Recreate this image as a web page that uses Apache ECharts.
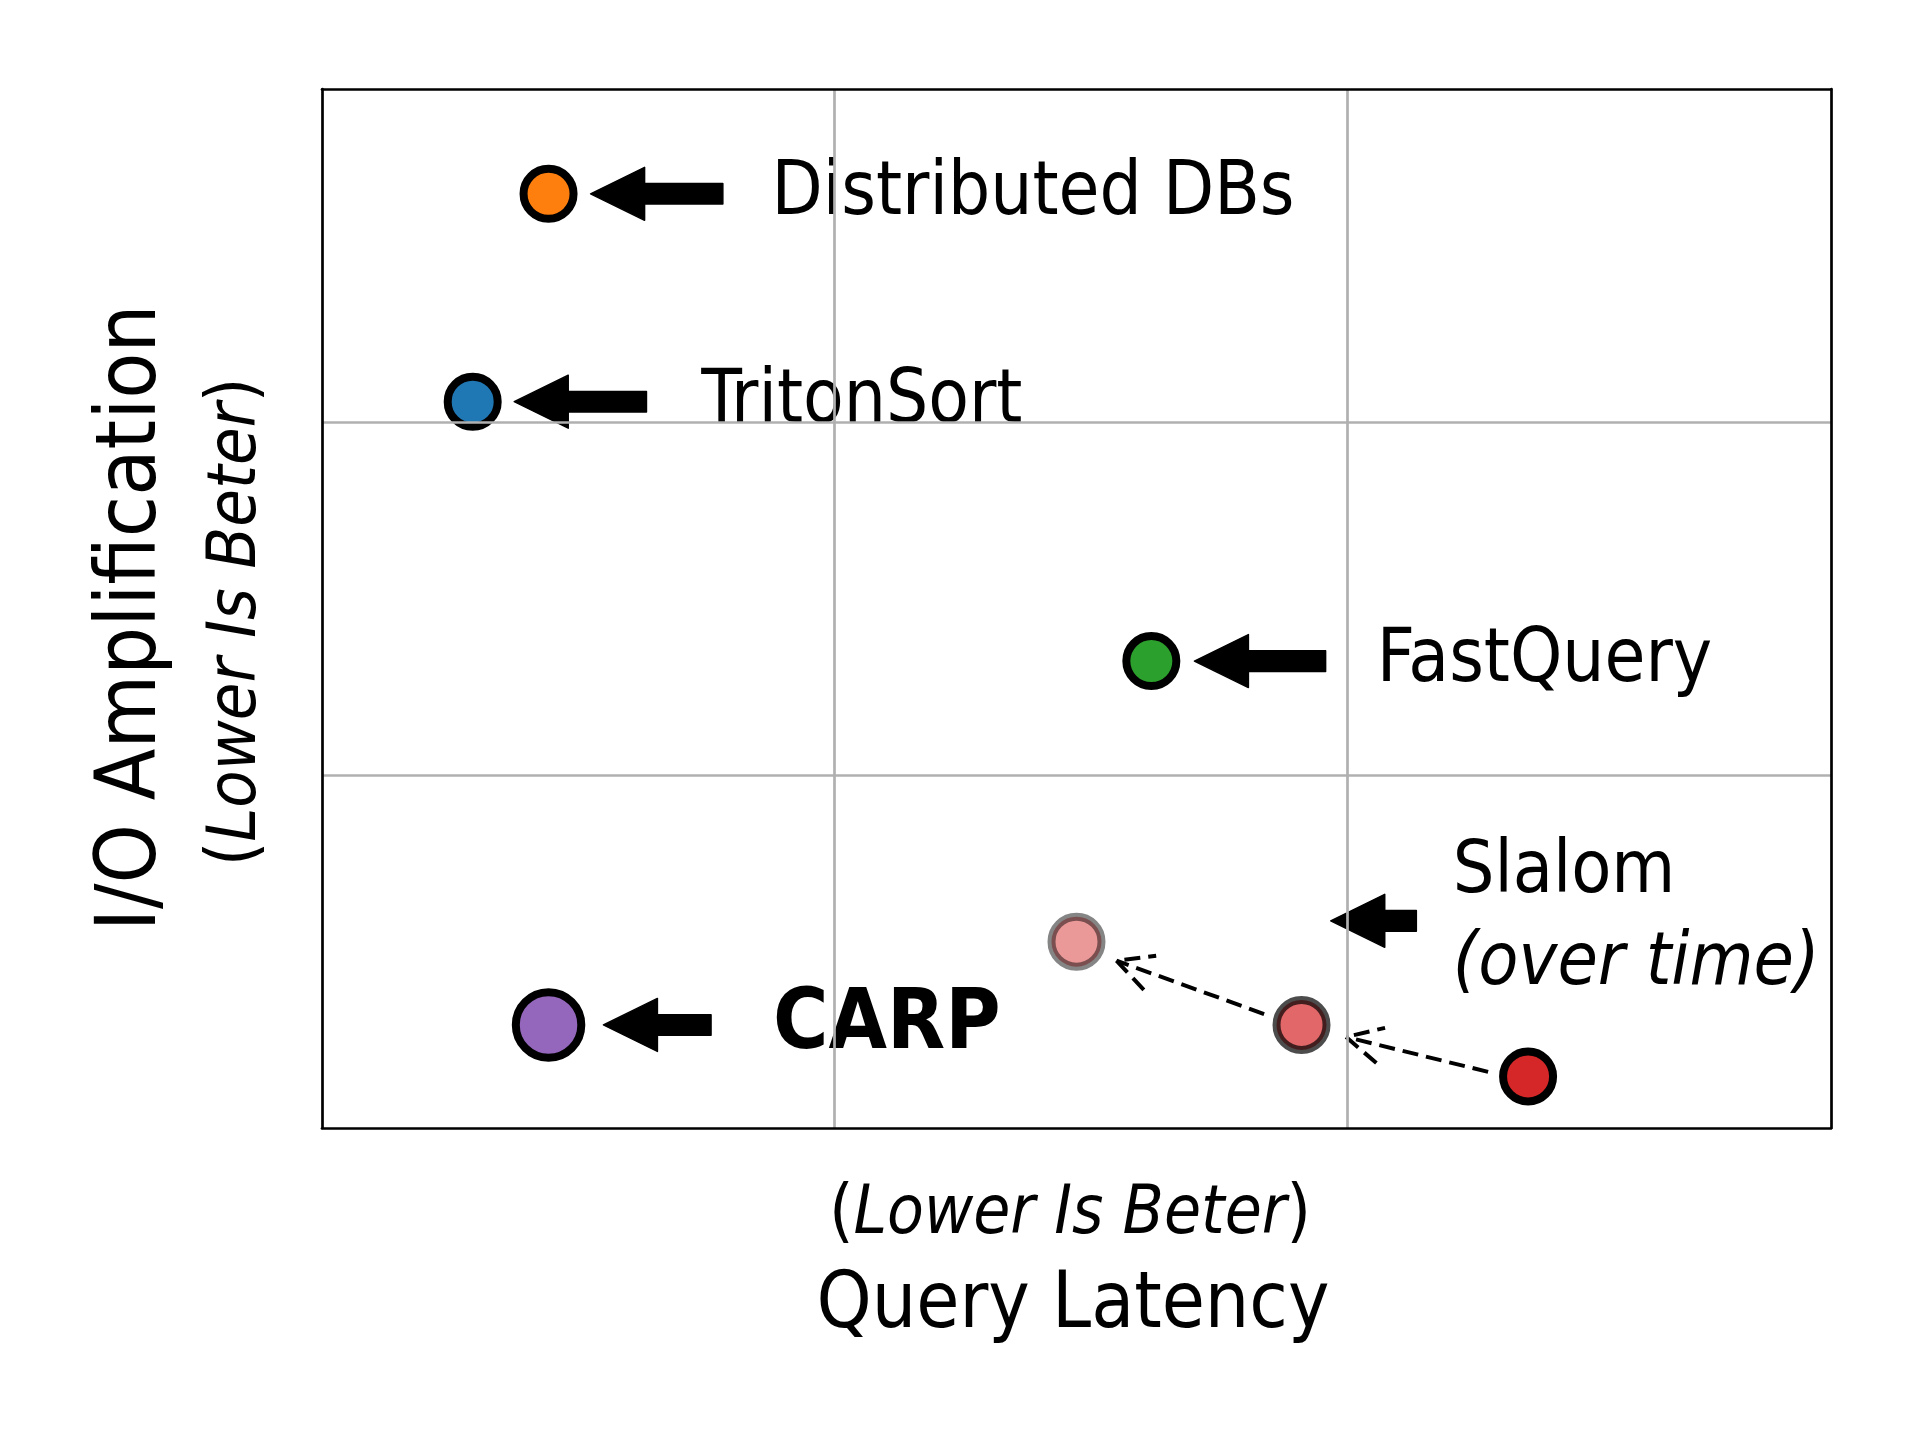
<!DOCTYPE html>
<html>
<head>
<meta charset="utf-8">
<script src="https://cdn.jsdelivr.net/npm/echarts@6/dist/echarts.min.js"></script>
<style>
  html, body { margin: 0; padding: 0; background: #fff; }
  #chart { width: 1920px; height: 1440px; }
</style>
</head>
<body>
<div id="chart"></div>
<script>
// ---------------- data ----------------
const systems   = ['Distributed DBs', 'TritonSort', 'FastQuery', 'CARP'];
const latency   = [0.442, 0.294, 1.618, 0.442];
const ioAmp     = [2.647, 2.058, 1.323, 0.292];

// Slalom over time: first (latest, solid) -> older (faded)
const slalomLatency = [2.353, 1.911, 1.472];
const slalomIO      = [0.146, 0.292, 0.528];

// annotation arrows (data coords): tip x, tail x, label x
const arrowTipX  = [0.524, 0.375, 1.702, 0.549];
const arrowTailX = [0.782, 0.633, 1.958, 0.759];
const labelX     = [0.877, 0.740, 2.058, 0.880];

// Slalom annotation
const slalomArrow = [1.968, 2.135, 0.587];   // tip x, tail x, y
const slalomLabelX = 2.206;
const slalomLabel = ['Slalom', '(over time)'];

// dashed trend arrows: [fromX, fromY, toX, toY]
const trendArrows = [
  [2.275, 0.159, 1.998, 0.258],
  [1.838, 0.323, 1.550, 0.474]
];

const axisMax = 2.944;
const xTitle = ['Lower Is Beter', 'Query Latency'];
const yTitle = ['I/O Amplification', 'Lower Is Beter'];

// ---------------- styles ----------------
const FAM = '"DejaVu Sans Condensed", "DejaVu Sans", sans-serif';
const sysColors = ['#ff7f0e', '#1f77b4', '#2ca02c', '#9467bd'];
const sysSizes  = [50, 50, 50, 65.5];
const slalomOpacity = [1, 0.7, 0.48];
const RED = '#d62728';

const chart = echarts.init(document.getElementById('chart'), null, { renderer: 'canvas' });

const grid = { left: 322, top: 89, width: 1509, height: 1039 };

function blockArrow(api, tipX, tailX, y) {
  const tip = api.coord([tipX, y]);
  const tail = api.coord([tailX, y]);
  const hl = 54, hh = 26.5, sh = 10.3;
  const tx = tip[0], ty = tip[1], lx = tail[0];
  return {
    type: 'polygon',
    shape: { points: [
      [tx, ty], [tx + hl, ty - hh], [tx + hl, ty - sh], [lx, ty - sh],
      [lx, ty + sh], [tx + hl, ty + sh], [tx + hl, ty + hh]
    ] },
    style: { fill: '#000', stroke: '#000', lineWidth: 1.5, lineJoin: 'round' }
  };
}

const gridLine = { show: true, showMinLine: false, showMaxLine: false, lineStyle: { color: '#b0b0b0', width: 2.7 } };
const spine = { show: true, onZero: false, lineStyle: { color: '#000', width: 2.7 } };

function mkAxis(pos, withSplit) {
  return {
    type: 'value', min: 0, max: axisMax, interval: 1, position: pos,
    axisLine: spine, axisTick: { show: false }, axisLabel: { show: false },
    splitLine: withSplit ? gridLine : { show: false }, z: 10
  };
}

const option = {
  animation: false,
  backgroundColor: '#fff',
  grid: Object.assign({ show: false, containLabel: false }, grid),
  xAxis: [mkAxis('bottom', true), mkAxis('top', false)],
  yAxis: [mkAxis('left', true), mkAxis('right', false)],
  series: [
    // dashed trend arrows
    {
      type: 'custom', z: 3,
      data: trendArrows.map((a) => [a[0], a[1], a[2], a[3]]),
      renderItem: function (params, api) {
        const p0 = api.coord([api.value(0), api.value(1)]);
        const p1 = api.coord([api.value(2), api.value(3)]);
        const dx = p0[0] - p1[0], dy = p0[1] - p1[1];
        const ang = Math.atan2(dy, dx);
        const L = 40, spread = 27 * Math.PI / 180;
        const h1 = [p1[0] + L * Math.cos(ang + spread), p1[1] + L * Math.sin(ang + spread)];
        const h2 = [p1[0] + L * Math.cos(ang - spread), p1[1] + L * Math.sin(ang - spread)];
        return {
          type: 'group',
          children: [
            { type: 'line', shape: { x1: p0[0], y1: p0[1], x2: p1[0], y2: p1[1] },
              style: { stroke: '#000', lineWidth: 4, lineDash: [16, 8] } },
            { type: 'polyline', shape: { points: [h1, p1, h2] },
              style: { stroke: '#000', lineWidth: 4, fill: null, lineDash: [16, 8] } }
          ]
        };
      }
    },
    // Slalom points
    {
      type: 'scatter', z: 4,
      data: slalomLatency.map((x, i) => ({
        value: [x, slalomIO[i]],
        symbolSize: 50,
        itemStyle: { color: RED, borderColor: '#000', borderWidth: 8, opacity: slalomOpacity[i] }
      }))
    },
    // systems
    {
      type: 'scatter', z: 5,
      data: systems.map((s, i) => ({
        name: s,
        value: [latency[i], ioAmp[i]],
        symbolSize: sysSizes[i],
        itemStyle: { color: sysColors[i], borderColor: '#000', borderWidth: 8, opacity: 1 }
      }))
    },
    // block arrows + labels for systems
    {
      type: 'custom', z: 6,
      data: systems.map((s, i) => [arrowTipX[i], arrowTailX[i], labelX[i], ioAmp[i], i]),
      renderItem: function (params, api) {
        const i = api.value(4);
        const y = api.value(3);
        const lp = api.coord([api.value(2), y]);
        const bold = systems[i] === 'CARP';
        return {
          type: 'group',
          children: [
            blockArrow(api, api.value(0), api.value(1), y),
            { type: 'text',
              style: { text: systems[i], x: lp[0], y: lp[1] + 1,
                fill: '#000', align: 'left', verticalAlign: 'middle',
                font: (bold ? 'bold 84px ' : '74px ') + FAM } }
          ]
        };
      }
    },
    // Slalom arrow + label
    {
      type: 'custom', z: 6,
      data: [[slalomArrow[0], slalomArrow[1], slalomArrow[2], slalomLabelX]],
      renderItem: function (params, api) {
        const y = api.value(2);
        const lp = api.coord([api.value(3), y]);
        return {
          type: 'group',
          children: [
            blockArrow(api, api.value(0), api.value(1), y),
            { type: 'text',
              style: { text: '{n|' + slalomLabel[0] + '}\n{i|' + slalomLabel[1] + '}',
                x: lp[0], y: lp[1] - 2, align: 'left', verticalAlign: 'middle',
                rich: {
                  n: { font: '73px ' + FAM, lineHeight: 92, fill: '#000' },
                  i: { font: 'italic 73px ' + FAM, lineHeight: 92, fill: '#000' }
                } } }
          ]
        };
      }
    }
  ],
  graphic: [
    { type: 'text', x: 1070, y: 1216,
      style: { text: '{p|(}{i|' + xTitle[0] + '}{p|)}', align: 'center', verticalAlign: 'middle',
        rich: { p: { font: '70px ' + FAM, fill: '#000' }, i: { font: 'italic 67px ' + FAM, fill: '#000' } } } },
    { type: 'text', x: 1073, y: 1307,
      style: { text: xTitle[1], font: '78px ' + FAM, fill: '#000', align: 'center', verticalAlign: 'middle' } },
    { type: 'text', x: 133, y: 618, rotation: Math.PI / 2,
      style: { text: yTitle[0], font: '84px ' + FAM, fill: '#000', align: 'center', verticalAlign: 'middle' } },
    { type: 'text', x: 237, y: 622, rotation: Math.PI / 2,
      style: { text: '{p|(}{i|' + yTitle[1] + '}{p|)}', align: 'center', verticalAlign: 'middle',
        rich: { p: { font: '70px ' + FAM, fill: '#000' }, i: { font: 'italic 68px ' + FAM, fill: '#000' } } } }
  ]
};

chart.setOption(option);
</script>
</body>
</html>
